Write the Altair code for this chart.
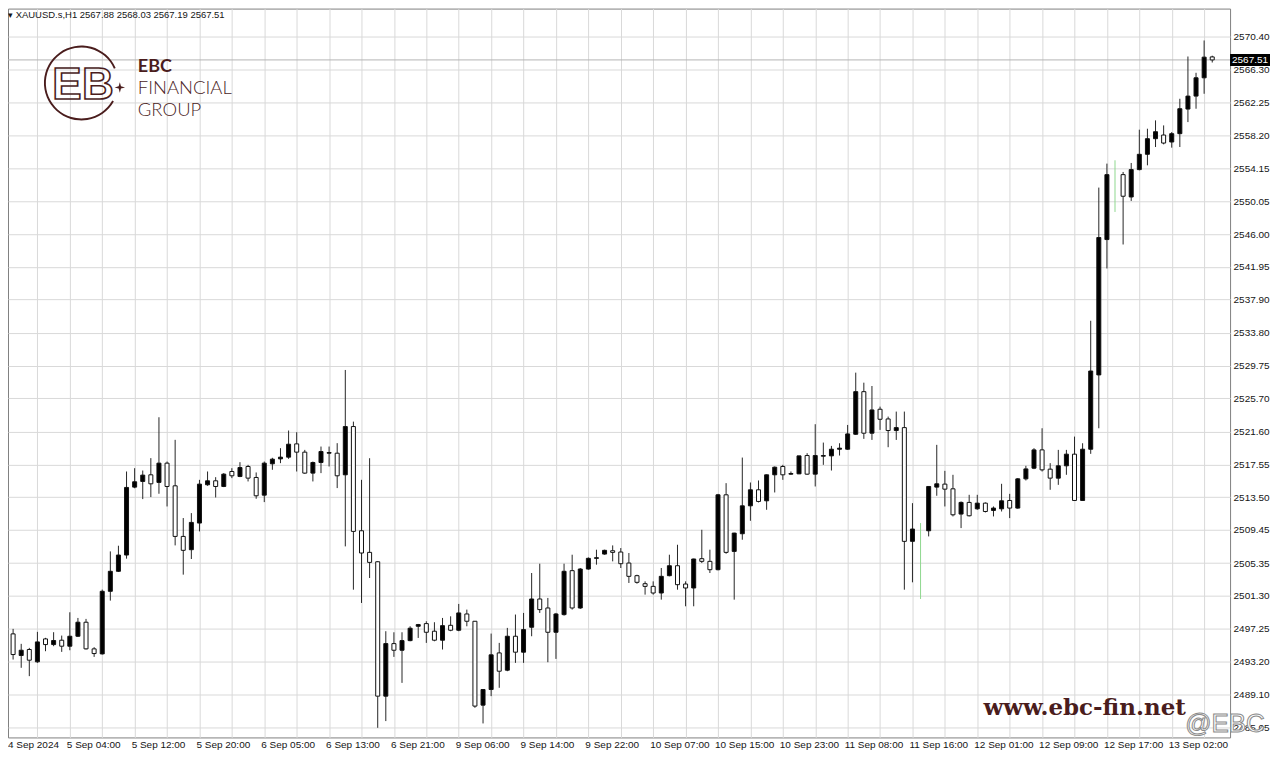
import altair as alt
import pandas as pd

# ---------------- data (hourly XAUUSD candles) ----------------
bars = list(range(150))
opens = [2494.06, 2496.61, 2493.94, 2494.68, 2493.16, 2495.99, 2495.29, 2495.83, 2495.09, 2496.32,
         2498.05, 2494.76, 2494.14, 2501.87, 2504.34, 2506.35, 2514.74, 2515.44, 2516.26, 2515.32,
         2517.70, 2514.90, 2508.65, 2507.01, 2510.30, 2515.03, 2515.52, 2514.82, 2516.67, 2516.05,
         2517.29, 2515.93, 2513.75, 2517.62, 2518.23, 2518.44, 2520.08, 2519.06, 2516.47, 2517.78,
         2518.93, 2518.93, 2516.26, 2522.22, 2509.35, 2506.68, 2505.52, 2488.92, 2495.41, 2494.59,
         2495.78, 2497.55, 2497.88, 2496.94, 2495.83, 2497.67, 2497.06, 2499.07, 2498.17, 2487.81,
         2489.74, 2494.26, 2492.13, 2496.32, 2494.35, 2497.43, 2500.92, 2499.81, 2496.81, 2498.99,
         2504.42, 2499.81, 2504.62, 2505.94, 2506.47, 2506.88, 2506.72, 2505.36, 2503.80, 2502.81,
         2502.48, 2501.66, 2503.80, 2505.03, 2502.77, 2502.28, 2505.90, 2505.57, 2504.54, 2513.79,
         2506.80, 2508.98, 2512.43, 2514.41, 2513.05, 2516.26, 2517.29, 2516.34, 2516.38, 2518.64,
         2516.34, 2518.56, 2518.60, 2519.42, 2519.42, 2521.27, 2526.53, 2521.40, 2524.36, 2523.16,
         2521.73, 2522.09, 2508.04, 2509.40, 2509.35, 2514.74, 2515.11, 2514.53, 2511.41, 2512.85,
         2512.06, 2512.76, 2511.86, 2512.06, 2513.09, 2512.15, 2515.76, 2517.08, 2519.34, 2516.96,
         2515.85, 2517.37, 2518.81, 2513.09, 2519.42, 2528.60, 2545.32, 2550.70, 2553.34, 2550.58,
         2553.96, 2555.85, 2557.78, 2558.23, 2557.37, 2558.40, 2561.44, 2563.04, 2565.30, 2567.88]
highs = [2497.88, 2497.23, 2495.38, 2494.88, 2496.86, 2496.12, 2496.82, 2496.40, 2499.28, 2498.58,
         2498.46, 2494.97, 2502.08, 2506.80, 2507.50, 2516.67, 2517.08, 2516.79, 2518.32, 2523.37,
         2517.90, 2520.58, 2510.92, 2511.53, 2515.64, 2516.67, 2515.97, 2516.47, 2517.08, 2517.82,
         2517.49, 2516.55, 2517.90, 2518.36, 2519.55, 2521.73, 2521.52, 2519.34, 2517.90, 2519.75,
         2519.75, 2520.17, 2529.21, 2522.83, 2515.64, 2518.31, 2505.60, 2496.94, 2496.81, 2496.81,
         2497.55, 2497.84, 2498.17, 2498.05, 2498.58, 2498.78, 2500.31, 2499.61, 2498.20, 2489.80,
         2496.65, 2495.50, 2497.35, 2499.00, 2499.20, 2504.13, 2505.28, 2501.05, 2499.20, 2505.28,
         2506.39, 2504.75, 2506.06, 2507.01, 2507.01, 2507.54, 2507.21, 2506.60, 2503.92, 2503.10,
         2503.10, 2504.75, 2506.39, 2507.62, 2503.10, 2505.90, 2509.47, 2507.01, 2513.90, 2515.23,
         2509.10, 2518.39, 2515.31, 2515.56, 2516.30, 2517.29, 2517.49, 2516.67, 2518.60, 2518.93,
         2522.51, 2520.24, 2519.83, 2520.16, 2522.42, 2528.88, 2527.64, 2527.23, 2524.68, 2523.45,
         2524.07, 2524.07, 2512.76, 2510.30, 2514.85, 2519.96, 2516.75, 2516.26, 2512.97, 2513.79,
         2513.79, 2512.85, 2512.35, 2515.15, 2513.91, 2515.85, 2517.37, 2519.55, 2522.01, 2517.70,
         2519.34, 2519.34, 2520.98, 2520.16, 2535.29, 2551.74, 2554.70, 2555.11, 2553.67, 2554.78,
         2558.89, 2559.01, 2560.04, 2559.42, 2558.60, 2562.71, 2567.93, 2565.92, 2569.91, 2568.03]
lows = [2493.03, 2493.44, 2492.42, 2491.39, 2493.03, 2494.47, 2495.09, 2494.39, 2494.59, 2496.24,
        2494.68, 2493.77, 2494.06, 2500.72, 2504.26, 2505.90, 2514.60, 2513.26, 2513.51, 2513.92,
        2512.35, 2507.54, 2503.93, 2505.86, 2509.27, 2514.90, 2513.46, 2514.74, 2515.85, 2515.97,
        2515.44, 2513.30, 2512.89, 2516.88, 2517.70, 2518.23, 2516.67, 2516.38, 2515.44, 2516.47,
        2517.29, 2514.62, 2507.42, 2502.07, 2500.43, 2503.51, 2485.01, 2485.84, 2493.77, 2490.56,
        2495.70, 2496.11, 2495.50, 2495.70, 2494.68, 2496.94, 2496.94, 2497.55, 2487.48, 2485.55,
        2488.92, 2489.95, 2492.00, 2493.03, 2493.03, 2496.32, 2499.20, 2493.11, 2493.52, 2498.87,
        2499.61, 2499.69, 2504.54, 2505.16, 2506.39, 2505.57, 2504.75, 2502.90, 2502.81, 2501.46,
        2501.46, 2500.84, 2503.72, 2502.07, 2500.02, 2500.02, 2505.36, 2504.13, 2504.46, 2506.51,
        2500.84, 2508.24, 2510.58, 2512.85, 2511.94, 2514.08, 2515.64, 2516.26, 2516.34, 2516.26,
        2514.82, 2517.49, 2516.79, 2518.64, 2519.34, 2521.19, 2520.70, 2520.57, 2521.81, 2519.67,
        2520.57, 2502.07, 2502.98, 2500.92, 2508.65, 2513.67, 2512.35, 2511.12, 2509.68, 2511.12,
        2511.94, 2511.61, 2511.12, 2511.73, 2510.91, 2512.06, 2515.56, 2516.96, 2516.67, 2514.41,
        2515.02, 2516.26, 2513.05, 2513.05, 2518.85, 2522.01, 2541.75, 2548.73, 2544.71, 2550.09,
        2553.87, 2554.49, 2556.75, 2557.08, 2556.67, 2556.75, 2559.83, 2561.48, 2563.33, 2567.19]
closes = [2496.73, 2494.06, 2494.59, 2493.36, 2495.62, 2495.29, 2495.79, 2495.09, 2496.32, 2498.05,
          2494.76, 2494.18, 2501.87, 2504.34, 2506.35, 2514.70, 2515.40, 2516.22, 2515.15, 2517.70,
          2514.82, 2508.65, 2506.93, 2510.38, 2515.11, 2515.52, 2514.82, 2516.34, 2516.14, 2517.16,
          2515.85, 2513.67, 2517.70, 2518.19, 2518.44, 2520.04, 2519.06, 2516.47, 2517.78, 2519.14,
          2519.01, 2516.14, 2522.22, 2509.27, 2506.60, 2505.44, 2488.92, 2495.41, 2494.59, 2495.78,
          2497.31, 2497.76, 2496.81, 2495.83, 2497.63, 2497.06, 2499.20, 2498.17, 2487.69, 2489.74,
          2494.02, 2492.00, 2496.32, 2494.35, 2497.14, 2500.92, 2499.61, 2496.81, 2499.07, 2504.34,
          2499.81, 2504.62, 2505.94, 2506.02, 2506.93, 2506.68, 2505.28, 2503.72, 2502.98, 2502.48,
          2501.66, 2503.72, 2505.03, 2502.69, 2502.28, 2505.86, 2505.57, 2504.54, 2513.79, 2506.68,
          2509.06, 2512.43, 2514.41, 2512.97, 2516.26, 2517.20, 2516.26, 2516.42, 2518.60, 2516.34,
          2518.64, 2518.64, 2519.42, 2519.55, 2521.31, 2526.53, 2521.40, 2524.27, 2523.12, 2521.73,
          2522.09, 2508.04, 2509.56, 2509.40, 2514.82, 2515.15, 2514.49, 2511.32, 2512.85, 2511.20,
          2512.76, 2511.73, 2512.15, 2513.05, 2512.15, 2515.76, 2516.99, 2519.34, 2516.87, 2515.85,
          2517.37, 2518.81, 2513.09, 2519.42, 2529.08, 2545.57, 2553.34, 2550.70, 2550.67, 2553.96,
          2555.85, 2557.78, 2558.64, 2557.24, 2558.40, 2561.48, 2563.04, 2565.30, 2567.85, 2567.51]

price_ticks = [2485.05, 2489.10, 2493.20, 2497.25, 2501.30, 2505.35, 2509.45, 2513.50, 2517.55,
               2521.60, 2525.70, 2529.75, 2533.80, 2537.90, 2541.95, 2546.00, 2550.05, 2554.15,
               2558.20, 2562.25, 2566.30, 2570.40]
grid_bars = list(range(0, 150, 4))
label_bars = list(range(8, 145, 8))
time_labels = ["5 Sep 04:00", "5 Sep 12:00", "5 Sep 20:00", "6 Sep 05:00", "6 Sep 13:00",
               "6 Sep 21:00", "9 Sep 06:00", "9 Sep 14:00", "9 Sep 22:00", "10 Sep 07:00",
               "10 Sep 15:00", "10 Sep 23:00", "11 Sep 08:00", "11 Sep 16:00", "12 Sep 01:00",
               "12 Sep 09:00", "12 Sep 17:00", "13 Sep 02:00"]
first_label = "4 Sep 2024"
symbol = "XAUUSD.s,H1"
bid = closes[-1]

# ---------------- layout ----------------
W, H = 1224, 730
X_DOMAIN = [0.37, 151.2]
Y_DOMAIN = [2483.82, 2573.85]
MAROON = "#4a1d1d"
GRID = "#d9d9d9"
FONT = "Liberation Sans"

df = pd.DataFrame({"i": bars, "o": opens, "h": highs, "l": lows, "c": closes})
df["kind"] = ["up" if c > o else ("down" if c < o else "doji") for o, c in zip(opens, closes)]
df["top"] = df[["o", "c"]].max(axis=1)
df["bot"] = df[["o", "c"]].min(axis=1)

xs = alt.Scale(domain=X_DOMAIN, nice=False, zero=False, padding=0)
ys = alt.Scale(domain=Y_DOMAIN, nice=False, zero=False, padding=0)
xaxis = alt.Axis(values=grid_bars, grid=True, gridColor=GRID, gridWidth=1, labels=False,
                 ticks=False, domain=False, title=None)
yaxis = alt.Axis(orient="right", values=price_ticks, format=".2f", grid=True, gridColor=GRID,
                 gridWidth=1, ticks=False, domain=False, labelFont=FONT, labelFontSize=10,
                 labelColor="#151515", labelPadding=3, labelOverlap=False, labelFlush=False,
                 labelBound=False, title=None)

X = alt.X("i:Q", scale=xs, axis=xaxis)

base = alt.Chart(df)

wicks = base.mark_rule(strokeWidth=1, clip=True).encode(
    x=X,
    y=alt.Y("l:Q", scale=ys, axis=yaxis),
    y2="h:Q",
    color=alt.Color("kind:N", scale=alt.Scale(domain=["up", "down", "doji"],
                                              range=["#262626", "#262626", "#8fd88f"]), legend=None),
)

bodies = base.transform_filter("datum.kind != 'doji'").mark_bar(
    size=4, stroke="#111111", strokeWidth=1, clip=True
).encode(
    x=X,
    y=alt.Y("bot:Q", scale=ys, axis=yaxis),
    y2="top:Q",
    fill=alt.Fill("kind:N", scale=alt.Scale(domain=["up", "down"], range=["#000000", "#ffffff"]),
                  legend=None),
)

bid_df = pd.DataFrame({"p": [bid]})
bid_line = alt.Chart(bid_df).mark_rule(color="#b4b4b4", strokeWidth=1).encode(
    y=alt.Y("p:Q", scale=ys, axis=yaxis), x=alt.value(0), x2=alt.value(W)
)
bid_box = alt.Chart(bid_df).mark_point(
    shape="M-1,-0.3L1,-0.3L1,0.3L-1,0.3Z", size=1600, filled=True, color="#000000", opacity=1
).encode(y=alt.Y("p:Q", scale=ys, axis=yaxis), x=alt.value(W + 20))
bid_text = alt.Chart(bid_df).mark_text(
    color="#ffffff", font=FONT, fontSize=10, align="center", baseline="middle"
).encode(y=alt.Y("p:Q", scale=ys, axis=yaxis), x=alt.value(W + 20),
         text=alt.Text("p:Q", format=".2f"))

lab_df = pd.DataFrame({"i": label_bars, "t": time_labels})
tlabels = alt.Chart(lab_df).mark_text(
    align="left", baseline="middle", dx=-3, font=FONT, fontSize=10, color="#151515"
).encode(x=X, y=alt.value(H + 8), text="t:N")
tfirst = alt.Chart(pd.DataFrame({"t": [first_label]})).mark_text(
    align="left", baseline="middle", font=FONT, fontSize=10, color="#151515"
).encode(x=alt.value(0), y=alt.value(H + 8), text="t:N")

header_text = "\u25BE " + symbol + "  " + " ".join(
    f"{v:.2f}" for v in [opens[-1], highs[-1], lows[-1], closes[-1]])
header = alt.Chart(pd.DataFrame({"t": [header_text]})).mark_text(
    align="left", baseline="top", font=FONT, fontSize=9.5, color="#151515"
).encode(x=alt.value(0), y=alt.value(1), text="t:N")

# ---------------- EBC logo ----------------
one = pd.DataFrame({"a": [0]})
ring = alt.Chart(one).mark_arc(
    color=MAROON, radius=37.5, radius2=35.6, theta=2.09, theta2=7.44
).encode(x=alt.value(73.5), y=alt.value(74.5))
star = alt.Chart(one).mark_point(
    shape="M0,-1L0.22,-0.22L1,0L0.22,0.22L0,1L-0.22,0.22L-1,0L-0.22,-0.22Z",
    size=110, filled=True, color=MAROON, opacity=1
).encode(x=alt.value(112), y=alt.value(79))
logo_letters = pd.DataFrame({"t": ["E", "B"], "px": [59, 90]})
letters = alt.Chart(logo_letters).mark_text(
    font="Liberation Sans Narrow, Liberation Sans", fontSize=44, fontWeight="bold",
    align="center", baseline="middle", fillOpacity=0, stroke=MAROON, strokeWidth=1.6
).encode(x=alt.X("px:Q", scale=None, axis=None), y=alt.value(78), text="t:N")
brand = pd.DataFrame({"t": ["EBC", "FINANCIAL", "GROUP"], "yy": [64, 86, 108]})
brand_bold = alt.Chart(brand.iloc[:1]).mark_text(
    font="Lato, Inter, Liberation Sans", fontSize=18, fontWeight="bold", align="left",
    baseline="alphabetic", color=MAROON
).encode(x=alt.value(130), y=alt.Y("yy:Q", scale=None, axis=None), text="t:N")
brand_light = alt.Chart(brand.iloc[1:]).mark_text(
    font="Lato, Inter, Liberation Sans", fontSize=18.5, fontWeight=300, align="left",
    baseline="alphabetic", color=MAROON
).encode(x=alt.value(130), y=alt.Y("yy:Q", scale=None, axis=None), text="t:N")

# ---------------- watermarks ----------------
site = alt.Chart(pd.DataFrame({"t": ["www.ebc-fin.net"]})).mark_text(
    font="DejaVu Serif", fontSize=23, fontWeight="bold", align="left", baseline="alphabetic",
    color=MAROON
).encode(x=alt.value(977), y=alt.value(708), text="t:N")
weibo = alt.Chart(pd.DataFrame({"t": ["@EBC"]})).mark_text(
    font="Liberation Sans", fontSize=26, align="left", baseline="middle",
    fill="#ffffff", stroke="#8a8a8a", strokeWidth=1
).encode(x=alt.value(1179), y=alt.value(717), text="t:N")

chart = alt.layer(
    bid_line, wicks, bodies, tlabels, tfirst, header,
    ring, star, letters, brand_bold, brand_light, site, weibo, bid_box, bid_text
).resolve_scale(x="shared", y="shared").properties(
    width=W, height=H,
    autosize=alt.AutoSizeParams(type="none"),
    padding={"left": 0, "top": 0, "right": 42, "bottom": 12},
    background="#ffffff",
).configure_view(stroke="#808080", strokeWidth=1)

chart.save("out.html", embed_options={"renderer": "svg", "actions": False})
